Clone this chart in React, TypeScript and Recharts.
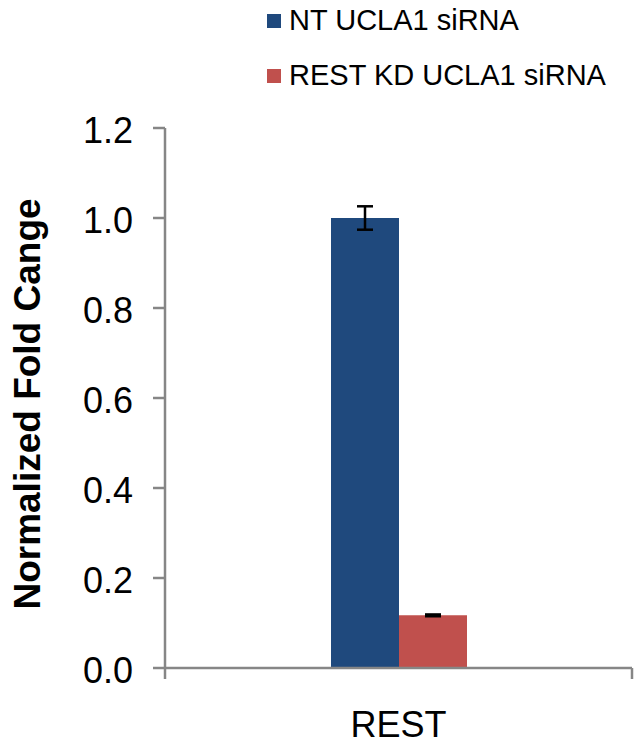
import React from 'react';
import { BarChart, Bar, XAxis, YAxis, ErrorBar } from 'recharts';

const categories = ['REST'];
const ntValues = [1.0];
const ntErrors = [0.026];
const kdValues = [0.117];
const kdErrors = [0.002];
const yTicks = [0, 0.2, 0.4, 0.6, 0.8, 1.0, 1.2];
const seriesNames = ['NT UCLA1 siRNA', 'REST KD UCLA1 siRNA'];
const seriesColors = ['#1F497D', '#C0504D'];

const data = categories.map((c, i) => ({
  cat: c,
  nt: ntValues[i],
  ntErr: ntErrors[i],
  kd: kdValues[i],
  kdErr: kdErrors[i],
}));

const FONT = '"Liberation Sans", Arial, sans-serif';
const AXIS = '#868686';

const LegendBox = () => (
  <div style={{ position: 'absolute', left: 267, top: -7, fontFamily: FONT, fontSize: 29, color: '#000', whiteSpace: 'nowrap' }}>
    {seriesNames.map((n, i) => (
      <div key={n} style={{ display: 'flex', alignItems: 'center', height: 55 }}>
        <span style={{ display: 'inline-block', width: 14, height: 14, background: seriesColors[i], marginRight: 8 }} />
        <span>{n}</span>
      </div>
    ))}
  </div>
);

const CatTick = (props: any) => {
  const { x, y, payload } = props;
  const half = payload && typeof payload.offset === 'number' ? payload.offset : 0;
  return (
    <g>
      <line x1={x - half} x2={x - half} y1={y} y2={y + 11} stroke={AXIS} strokeWidth={2.5} />
      <line x1={x + half} x2={x + half} y1={y} y2={y + 11} stroke={AXIS} strokeWidth={2.5} />
      <text x={x} y={y + 69} textAnchor="middle" fontFamily={FONT} fontSize={36} fill="#000">
        {payload.value}
      </text>
    </g>
  );
};

const YTitle = (props: any) => {
  const vb = props.viewBox || { x: 0, y: 128, width: 165, height: 540 };
  const cx = vb.x + 39.5;
  const cy = vb.y + vb.height / 2 + 6;
  return (
    <text
      x={cx}
      y={cy}
      transform={`rotate(-90 ${cx} ${cy})`}
      textAnchor="middle"
      fontFamily={FONT}
      fontSize={37}
      fontWeight="bold"
      fill="#000"
    >
      Normalized Fold Cange
    </text>
  );
};

export default function App() {
  return (
    <div style={{ position: 'absolute', left: 0, top: 0, width: 635, height: 750 }}>
      <BarChart
        width={635}
        height={750}
        data={data}
        margin={{ top: 128, right: 3, left: 0, bottom: 0 }}
        barGap={0}
      >
        <XAxis
          dataKey="cat"
          height={82}
          axisLine={{ stroke: AXIS, strokeWidth: 2.5 }}
          tickLine={false}
          tickSize={0}
          tickMargin={0}
          interval={0}
          tick={<CatTick />}
        />
        <YAxis
          domain={[0, 1.2]}
          ticks={yTicks}
          width={165}
          tickSize={12}
          tickMargin={20}
          tickFormatter={(v: number) => v.toFixed(1)}
          tick={{ fontFamily: FONT, fontSize: 36, fill: '#000', dy: 2.5 }}
          axisLine={{ stroke: AXIS, strokeWidth: 2.5 }}
          tickLine={{ stroke: AXIS, strokeWidth: 2.5 }}
          label={<YTitle />}
        />
        <Bar dataKey="nt" name={seriesNames[0]} fill={seriesColors[0]} barSize={68} isAnimationActive={false}>
          <ErrorBar dataKey="ntErr" width={8} stroke="#000" strokeWidth={2.5} />
        </Bar>
        <Bar dataKey="kd" name={seriesNames[1]} fill={seriesColors[1]} barSize={68} isAnimationActive={false}>
          <ErrorBar dataKey="kdErr" width={8} stroke="#000" strokeWidth={2.5} />
        </Bar>
      </BarChart>
      <LegendBox />
    </div>
  );
}
